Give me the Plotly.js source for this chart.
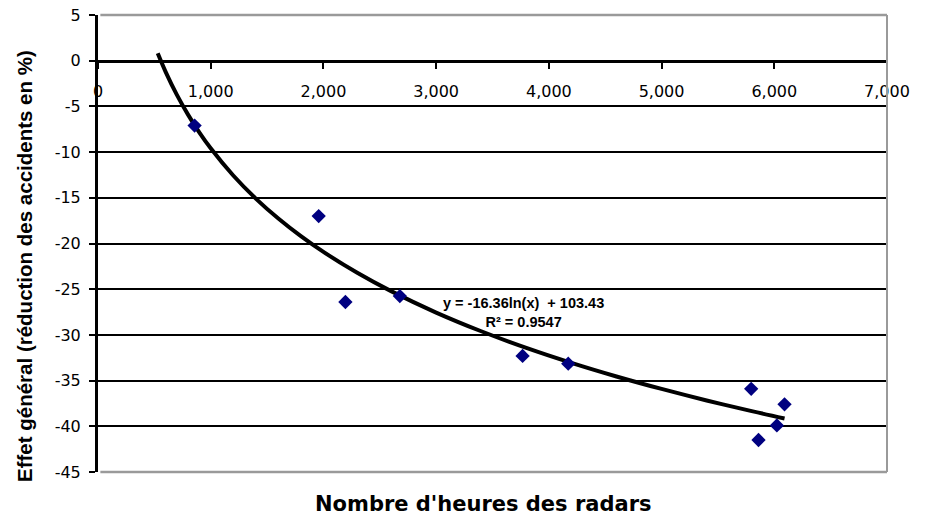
<!DOCTYPE html>
<html>
<head>
<meta charset="utf-8">
<script src="https://cdn.plot.ly/plotly-3.0.1.min.js"></script>
<style>html,body{margin:0;padding:0;background:#fff;}#chart{width:925px;height:523px;}</style>
</head>
<body>
<div id="chart"></div>
<script>
// Observed data: radar hours vs. accident effect (%)
var radarHours = [857, 1958, 2195, 2678, 3767, 4172, 5795, 5860, 6023, 6091];
var effectPct  = [-7.1, -17.0, -26.4, -25.75, -32.3, -33.15, -35.9, -41.5, -39.9, -37.6];

// Logarithmic trendline as printed on the chart: y = a*ln(x) + b
var trendA = -16.36;
var trendB = 103.43;
var trendX = [530, 600, 700, 800, 900, 1000, 1200, 1400, 1600, 1800, 2000, 2300, 2600, 3000, 3400, 3800, 4200, 4600, 5000, 5400, 5800, 6091];
var trendY = trendX.map(function (x) { return trendA * Math.log(x) + trendB; });

var xTickVals = [0, 1000, 2000, 3000, 4000, 5000, 6000, 7000];
var xTickText = ['0', '1,000', '2,000', '3,000', '4,000', '5,000', '6,000', '7,000'];
var yTickVals = [5, 0, -5, -10, -15, -20, -25, -30, -35, -40, -45];
var yTickText = ['5', '0', '-5', '-10', '-15', '-20', '-25', '-30', '-35', '-40', '-45'];

var eqText = 'y = -16.36ln(x)  + 103.43<br>R² = 0.9547';
var xTitle = "Nombre d'heures des radars";
var yTitle = 'Effet général (réduction des accidents en %)';

var traces = [
  {
    x: trendX, y: trendY, type: 'scatter', mode: 'lines',
    line: {color: '#000000', width: 4, shape: 'spline'},
    hoverinfo: 'skip', showlegend: false
  },
  {
    x: radarHours, y: effectPct, type: 'scatter', mode: 'markers',
    marker: {symbol: 'diamond', size: 11, color: '#000080'},
    showlegend: false
  }
];

var layout = {
  width: 925, height: 523,
  margin: {l: 98, r: 38, t: 15, b: 51},
  paper_bgcolor: '#ffffff', plot_bgcolor: '#ffffff',
  showlegend: false,
  font: {family: 'DejaVu Sans, Arial, sans-serif', color: '#000000'},
  xaxis: {
    range: [0, 7000],
    anchor: 'free', position: 0.9,
    tickvals: xTickVals, ticktext: xTickText,
    ticks: 'outside', ticklen: 6, tickwidth: 2, tickcolor: '#000000',
    ticklabelstandoff: 9,
    tickfont: {family: 'DejaVu Sans, sans-serif', size: 16, color: '#000000'},
    showgrid: false, zeroline: false,
    showline: true, linecolor: '#000000', linewidth: 3
  },
  yaxis: {
    range: [-45, 5],
    domain: [0, 1],
    tickvals: yTickVals, ticktext: yTickText,
    ticks: 'outside', ticklen: 6, tickwidth: 2, tickcolor: '#000000',
    ticklabelstandoff: 5,
    tickfont: {family: 'DejaVu Sans, sans-serif', size: 16, color: '#000000'},
    showgrid: true, gridcolor: '#000000', gridwidth: 2,
    zeroline: false,
    showline: true, linecolor: '#000000', linewidth: 3
  },
  shapes: [
    {type: 'line', xref: 'paper', yref: 'paper', x0: 0.003, x1: 1, y0: 1, y1: 1, line: {color: '#9a9a9a', width: 2.5}, layer: 'above'},
    {type: 'line', xref: 'paper', yref: 'paper', x0: 1, x1: 1, y0: 0, y1: 1, line: {color: '#9a9a9a', width: 2}, layer: 'above'},
    {type: 'line', xref: 'paper', yref: 'paper', x0: 0.003, x1: 1, y0: 0, y1: 0, line: {color: '#9a9a9a', width: 2.5}, layer: 'above'}
  ],
  annotations: [
    {
      text: eqText, xref: 'paper', yref: 'paper', x: 0.539, y: 0.35,
      xanchor: 'center', yanchor: 'middle', showarrow: false, align: 'center',
      font: {family: 'Liberation Sans, Arial, sans-serif', size: 14.5, color: '#000000', weight: 'bold'}
    },
    {
      text: xTitle, xref: 'paper', yref: 'paper', x: 0.489, y: -0.07,
      xanchor: 'center', yanchor: 'middle', showarrow: false,
      font: {family: 'DejaVu Sans, sans-serif', size: 21, color: '#000000', weight: 'bold'}
    },
    {
      text: yTitle, xref: 'paper', yref: 'paper', x: -0.093, y: 0.45,
      xanchor: 'center', yanchor: 'middle', showarrow: false, textangle: -90,
      font: {family: 'Liberation Sans, Arial, sans-serif', size: 20.5, color: '#000000', weight: 'bold'}
    }
  ]
};

Plotly.newPlot('chart', traces, layout, {staticPlot: true, displayModeBar: false});
</script>
</body>
</html>
